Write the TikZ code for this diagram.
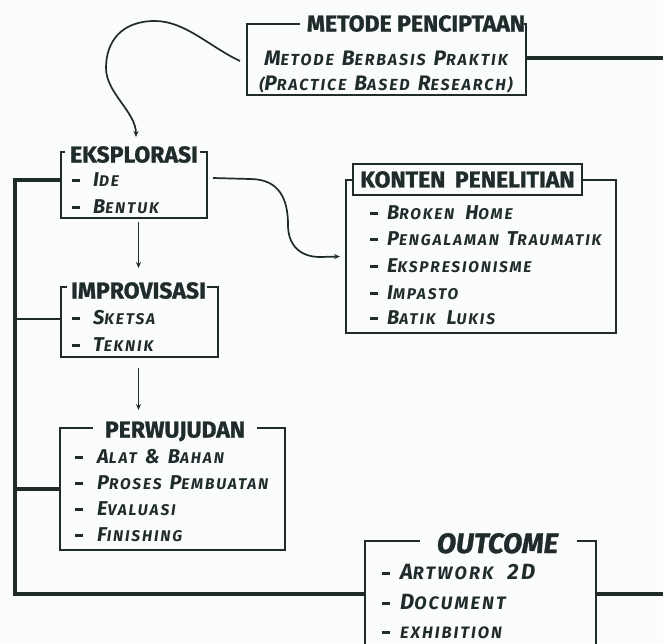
\documentclass[tikz,border=0pt]{standalone}
\usepackage{fontspec}
\setmainfont{Fira Sans}
\newfontfamily\itemfont[LetterSpace=12]{Fira Sans}
\newfontfamily\heavyfont[FakeBold=1.2]{Fira Sans}
\usetikzlibrary{arrows.meta}
\definecolor{ink}{RGB}{32,44,44}
\definecolor{bgc}{RGB}{251,252,252}
\def\csz{19}\def\ssz{14.5}
\newcommand\setsz[2]{\def\csz{#1}\def\ssz{#2}}
\newcommand\capsz{\fontsize{\csz pt}{\csz pt}\selectfont}
\newcommand\smsz{\fontsize{\ssz pt}{\ssz pt}\selectfont}
\newcommand\fsc[1]{\fscx#1\relax}
\def\fscx#1#2\relax{{\capsz#1}{\smsz\MakeUppercase{#2}}}
\newcommand\wsp{\hspace{8pt}}
\newcommand\idash[2]{\rule[#2]{8pt}{2.6pt}\hspace{#1}}
\tikzset{
  boxn/.style={draw=none, inner sep=0pt, outer sep=0pt},
  frame/.style={draw=ink, line width=1.8pt},
  bus/.style={draw=ink, line width=3.4pt},
  busthin/.style={draw=ink, line width=2.6pt},
  arr/.style={draw=ink, line width=1.7pt, -{Stealth[length=6pt,width=5pt]}},
  ttl/.style={anchor=base, inner sep=1pt, text=ink, font=\heavyfont\bfseries\fontsize{23pt}{23pt}\selectfont},
  item/.style={anchor=base west, inner sep=0pt, text=ink, font=\itemfont\bfseries\itshape\setsz{20}{15.5}},
}
\begin{document}
\begin{tikzpicture}[x=1pt,y=-1pt]
\fill[bgc] (0,0) rectangle (663,643);
\useasboundingbox (0,0) rectangle (663,643);
\coordinate (busX) at (15,0);
\coordinate (rEdge) at (663,0);

% METODE PENCIPTAAN
\node[boxn, minimum width=279pt, minimum height=71pt] (metode) at (386.5,59.5) {};
\draw[frame] ([xshift=53pt]metode.north west) -- (metode.north west) -- (metode.south west) -- (metode.south east) -- (metode.north east) -- ([xshift=-2pt]metode.north east);
\node[ttl] (metodeT) at (416,31.5) {METODE PENCIPTAAN};
\node[item, anchor=base, font=\itemfont\bfseries\itshape\setsz{21}{16}] (m1) at (386,65.5) {\fsc{Metode}\wsp\fsc{Berbasis}\wsp\fsc{Praktik}};
\node[item, anchor=base, font=\itemfont\bfseries\itshape\setsz{21}{16}] (m2) at (386,90.5) {{\smsz(}\fsc{Practice}\wsp\fsc{Based}\wsp\fsc{Research}{\smsz)}};

% EKSPLORASI
\node[boxn, minimum width=146pt, minimum height=66pt] (eksp) at (134,185) {};
\draw[frame] ([xshift=4pt]eksp.north west) -- (eksp.north west) -- (eksp.south west) -- (eksp.south east) -- (eksp.north east) -- ([xshift=-7pt]eksp.north east);
\node[ttl] (ekspT) at (134,162.5) {EKSPLORASI};
\node[item] (e1) at (72,186) {\idash{13pt}{4pt}\fsc{Ide}};
\node[item] (e2) at (72,213) {\idash{13pt}{4pt}\fsc{Bentuk}};

% IMPROVISASI
\node[boxn, minimum width=157pt, minimum height=70pt] (impr) at (139.5,322) {};
\draw[frame] ([xshift=6pt]impr.north west) -- (impr.north west) -- (impr.south west) -- (impr.south east) -- (impr.north east) -- ([xshift=-11pt]impr.north east);
\node[ttl] (imprT) at (138.5,298.5) {IMPROVISASI};
\node[item] (i1) at (72,324) {\idash{13pt}{4pt}\fsc{Sketsa}};
\node[item] (i2) at (72,351) {\idash{13pt}{4pt}\fsc{Teknik}};

% PERWUJUDAN
\node[boxn, minimum width=225pt, minimum height=122pt] (perw) at (172.5,489) {};
\draw[frame] ([xshift=33pt]perw.north west) -- (perw.north west) -- (perw.south west) -- (perw.south east) -- (perw.north east) -- ([xshift=-28pt]perw.north east);
\node[ttl] (perwT) at (175,437.5) {PERWUJUDAN};
\node[item] (p1) at (75,463) {\idash{14pt}{4pt}\fsc{Alat}\wsp{\capsz\&}\wsp\fsc{Bahan}};
\node[item] (p2) at (75,489) {\idash{14pt}{4pt}\fsc{Proses}\wsp\fsc{Pembuatan}};
\node[item] (p3) at (75,515) {\idash{14pt}{4pt}\fsc{Evaluasi}};
\node[item] (p4) at (75,541) {\idash{14pt}{4pt}\fsc{Finishing}};

% KONTEN PENELITIAN
\node[boxn, minimum width=270pt, minimum height=153pt] (kont) at (481,256.5) {};
\node[draw=ink, line width=2.6pt, fill=bgc, minimum width=229pt, minimum height=31pt, inner sep=0pt, text=ink, font=\heavyfont\bfseries\fontsize{23pt}{23pt}\selectfont] (kontT) at (467.5,179.5) {KONTEN\hspace{4pt} PENELITIAN};
\draw[frame] (kontT.west |- kont.north) -- (kont.north west) -- (kont.south west) -- (kont.south east) -- (kont.north east) -- (kontT.east |- kont.north);
\node[item] (k1) at (370,219) {\idash{9pt}{4pt}\fsc{Broken}\hspace{11pt}\fsc{Home}};
\node[item] (k2) at (370,245) {\idash{9pt}{4pt}\fsc{Pengalaman}\wsp\fsc{Traumatik}};
\node[item] (k3) at (370,272) {\idash{9pt}{4pt}\fsc{Ekspresionisme}};
\node[item] (k4) at (370,299) {\idash{9pt}{4pt}\fsc{Impasto}};
\node[item] (k5) at (370,324) {\idash{9pt}{4pt}\fsc{Batik}\hspace{11pt}\fsc{Lukis}};

% OUTCOME
\node[boxn, minimum width=231pt, minimum height=106pt] (outc) at (480.5,594) {};
\draw[frame] ([xshift=55pt]outc.north west) -- (outc.north west) -- (outc.south west);
\draw[frame] ([xshift=-19pt]outc.north east) -- (outc.north east) -- (outc.south east);
\node[ttl, font=\heavyfont\bfseries\itshape\fontsize{28pt}{28pt}\selectfont] (outT) at (497.5,553) {OUTCOME};
\node[item, font=\itemfont\bfseries\itshape\setsz{22}{18}] (o1) at (382,579.5) {\idash{10pt}{5pt}\fsc{Artwork}\hspace{14pt}{\capsz 2D}};
\node[item, font=\itemfont\bfseries\itshape\setsz{22}{18}] (o2) at (382,609.5) {\idash{10pt}{5pt}\fsc{Document}};
\node[item, font=\itemfont\bfseries\itshape\setsz{22}{18}] (o3) at (382,638.5) {\idash{10pt}{5pt}{\fontsize{16.5pt}{16.5pt}\selectfont EXHIBITION}};

% connectors
\draw[bus] ([yshift=5pt]eksp.west) -| (busX |- outc.west) -- (outc.west);
\draw[bus] (outc.east) -- (outc.east -| rEdge);
\draw[bus] ([yshift=1.5pt]metode.east) -- ([yshift=1.5pt]metode.east -| rEdge);
\path ([yshift=3pt]impr.west) coordinate (iw);
\draw[busthin] (iw) -- (iw -| busX);
\draw[bus] (perw.west) -- (perw.west -| busX);

\path ([yshift=-4pt]eksp.south) coordinate (a1) ([yshift=19pt]impr.north) coordinate (a2);
\draw[arr] (a1 -| imprT) -- (a2 -| imprT);
\path ([yshift=-11pt]impr.south) coordinate (b1) ([yshift=18pt]perw.north) coordinate (b2);
\draw[arr] (b1 -| imprT) -- (b2 -| imprT);

\draw[arr] ([xshift=-7pt,yshift=-1.5pt]metode.west) .. controls +(-30,-14) and +(30,0) .. ++(-85,-40) .. controls +(-35,0) and +(0,-25) .. ++(-49,47) .. controls +(0,25) and +(0,-25) .. ([xshift=2pt,yshift=15pt]eksp.north);
\draw[arr] ([xshift=6pt,yshift=7pt]eksp.east) -- ++(37,1) .. controls +(30,0) and +(0,-25) .. ++(38,46) .. controls +(0,20) and +(-20,0) .. ++(32,32) -- ([xshift=-6pt]kont.west);
\end{tikzpicture}
\end{document}
